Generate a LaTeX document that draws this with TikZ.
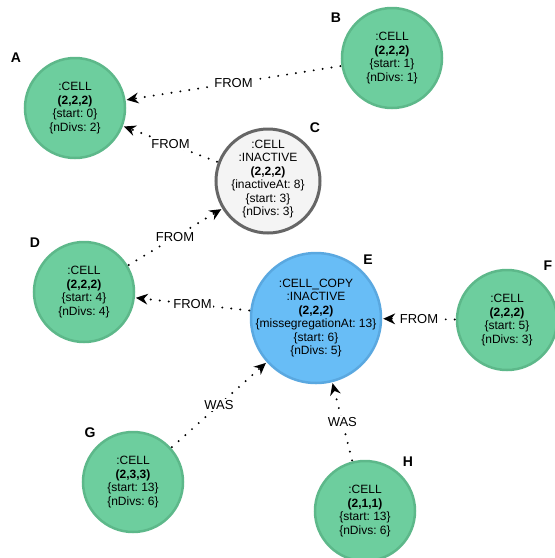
\documentclass[tikz,border=0pt]{standalone}
\usepackage{fontspec}
\setmainfont{Liberation Sans}
\usetikzlibrary{arrows.meta}
\frenchspacing
\definecolor{cellfill}{HTML}{6DCE9E}
\definecolor{celldraw}{HTML}{5DB88A}
\definecolor{copyfill}{HTML}{68BDF6}
\definecolor{copydraw}{HTML}{5AA8E0}
\definecolor{inactfill}{HTML}{F4F4F4}
\definecolor{inactdraw}{HTML}{666666}
\tikzset{
  cellnode/.style={circle, fill=cellfill, draw=celldraw, line width=2.5pt, minimum size=100pt, inner sep=0pt},
  inactnode/.style={circle, fill=inactfill, draw=inactdraw, line width=3pt, minimum size=104pt, inner sep=0pt},
  copynode/.style={circle, fill=copyfill, draw=copydraw, line width=2.5pt, minimum size=130pt, inner sep=0pt},
  celltext/.style={align=center, font=\fontsize{12}{13.5}\selectfont\frenchspacing, inner sep=0pt},
  tag/.style={font=\fontsize{14}{14}\selectfont\bfseries, inner sep=0pt},
  rel/.style={line width=2.2pt, line cap=round, dash pattern=on 0pt off 9pt, -{Stealth[length=12pt,width=11pt,inset=4pt,line width=0pt]}, shorten >=1pt, shorten <=1pt},
  rellabel/.style={midway, fill=white, inner sep=1.5pt, font=\fontsize{13}{13}\selectfont}
}
\begin{document}
\begin{tikzpicture}[x=1pt,y=-1pt]
\useasboundingbox (0,0) rectangle (555,558);
\clip (0,0) rectangle (555,558);
% nodes
\node[cellnode] (A) at (75,108) {};
\node[celltext] (At) at (A) {:CELL\\\textbf{(2,2,2)}\\\{start: 0\}\\\{nDivs: 2\}};
\node[cellnode] (B) at (392,58) {};
\node[celltext] (Bt) at (B) {:CELL\\\textbf{(2,2,2)}\\\{start: 1\}\\\{nDivs: 1\}};
\node[inactnode] (C) at (268,181) {};
\node[celltext] (Ct) at (268,179) {:CELL\\:INACTIVE\\\textbf{(2,2,2)}\\\{inactiveAt: 8\}\\\{start: 3\}\\\{nDivs: 3\}};
\node[cellnode] (D) at (84,292) {};
\node[celltext] (Dt) at (D) {:CELL\\\textbf{(2,2,2)}\\\{start: 4\}\\\{nDivs: 4\}};
\node[copynode] (E) at (316,318) {};
\node[celltext] (Et) at (E) {:CELL\_COPY\\:INACTIVE\\\textbf{(2,2,2)}\\\{missegregationAt: 13\}\\\{start: 6\}\\\{nDivs: 5\}};
\node[cellnode] (F) at (507,320) {};
\node[celltext] (Ft) at (F) {:CELL\\\textbf{(2,2,2)}\\\{start: 5\}\\\{nDivs: 3\}};
\node[cellnode] (G) at (133,482) {};
\node[celltext] (Gt) at (G) {:CELL\\\textbf{(2,3,3)}\\\{start: 13\}\\\{nDivs: 6\}};
\node[cellnode] (H) at (365,511) {};
\node[celltext] (Ht) at (H) {:CELL\\\textbf{(2,1,1)}\\\{start: 13\}\\\{nDivs: 6\}};
% tags
\node[tag] (tA) at (16,58) {A};
\node[tag] (tB) at (336,18) {B};
\node[tag] (tC) at (315,128) {C};
\node[tag] (tD) at (35,243) {D};
\node[tag] (tE) at (368,260) {E};
\node[tag] (tF) at (548,266) {F};
\node[tag] (tG) at (90,433) {G};
\node[tag] (tH) at (408,462) {H};
% relationships
\draw[rel] (B) -- node[rellabel] (l1) {FROM} (A);
\draw[rel] (C) -- node[rellabel] (l2) {FROM} (A);
\draw[rel] (D) -- node[rellabel] (l3) {FROM} (C);
\draw[rel] (E) -- node[rellabel] (l4) {FROM} (D);
\draw[rel] (F) -- node[rellabel] (l5) {FROM} (E);
\draw[rel] (G) -- node[rellabel] (l6) {WAS} (E);
\draw[rel] (H) -- node[rellabel] (l7) {WAS} (E);
\end{tikzpicture}
\end{document}
